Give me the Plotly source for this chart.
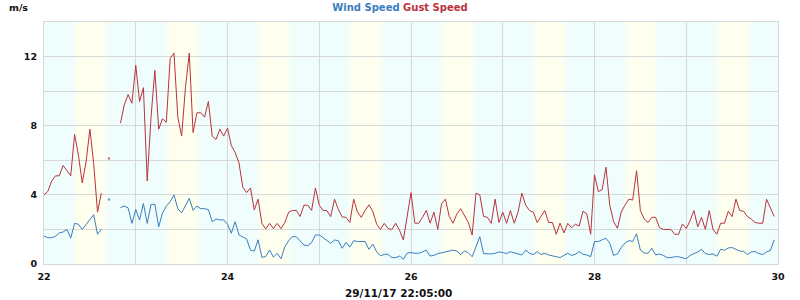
import pandas as pd
import plotly.graph_objects as go

# ---- data (hourly, from 22/11/2017 00:00) ----
start = "2017-11-22 00:00"
gust_d22 = [4.0, 4.2, 4.8, 5.1, 5.1, 5.7, 5.4, 5.1, 7.5, 6.3, 4.7, 5.9, 7.8, 5.8, 3.0, 4.1, None, 6.1, None, None, 8.15, 9.2, 9.8, 9.3]
gust_d23 = [11.5, 9.4, 10.2, 4.8, 8.5, 11.2, 7.8, 8.4, 8.2, 11.9, 12.2, 8.5, 7.4, 10.2, 12.2, 7.6, 8.75, 8.75, 8.5, 9.4, 7.4, 7.2, 7.8, 7.4]
gust_d24 = [7.86, 6.85, 6.45, 5.85, 4.45, 4.13, 4.4, 3.13, 3.75, 2.35, 2.03, 2.35, 2.05, 2.35, 2.05, 2.4, 3.0, 3.1, 3.1, 2.75, 3.4, 3.4, 3.1, 4.4]
gust_d25 = [3.4, 3.09, 3.09, 2.74, 3.75, 3.15, 2.72, 2.7, 2.4, 3.75, 3.0, 2.7, 3.1, 3.42, 3.05, 2.32, 2.0, 2.35, 2.05, 2.0, 2.36, 1.95, 1.39, 2.75]
gust_d26 = [4.13, 2.36, 2.36, 2.7, 3.1, 2.36, 3.0, 2.0, 3.5, 3.75, 2.75, 2.36, 2.9, 3.2, 2.8, 2.4, 1.68, 4.1, 4.0, 2.75, 2.7, 2.35, 3.75, 2.4]
gust_d27 = [3.0, 2.36, 3.09, 2.36, 3.0, 4.1, 3.4, 3.09, 3.0, 2.4, 2.75, 3.09, 2.4, 2.4, 1.72, 2.36, 1.8, 2.35, 2.1, 2.3, 2.2, 3.05, 2.9, 1.72]
gust_d28 = [5.16, 4.19, 4.3, 5.6, 3.4, 2.45, 2.07, 3.0, 3.42, 3.75, 3.7, 5.4, 3.1, 2.6, 2.4, 2.7, 2.7, 2.1, 2.0, 2.0, 2.0, 1.72, 1.72, 2.32]
gust_d29 = [2.05, 2.5, 3.09, 2.15, 2.7, 2.0, 3.09, 2.0, 1.72, 2.36, 2.36, 3.05, 2.74, 3.75, 3.09, 3.05, 2.74, 2.6, 2.4, 2.36, 2.36, 3.75, 3.3, 2.75]

wind_d22 = [1.62, 1.52, 1.52, 1.6, 1.8, 1.85, 2.0, 1.5, 2.35, 2.3, 2.0, 2.3, 2.55, 2.85, 1.72, 2.0, None, 3.73, None, None, 3.27, 3.35, 3.25, 2.35]
wind_d23 = [3.15, 2.55, 3.5, 2.35, 3.45, 3.45, 2.15, 2.95, 3.35, 3.6, 4.0, 3.2, 2.96, 3.4, 3.8, 3.1, 3.35, 3.2, 3.2, 3.15, 2.45, 2.6, 2.55, 2.55]
wind_d24 = [2.3, 1.78, 2.45, 1.68, 1.57, 1.45, 0.8, 0.75, 1.4, 0.39, 0.43, 0.81, 0.4, 0.62, 0.3, 1.0, 1.35, 1.58, 1.58, 1.32, 1.1, 1.06, 1.24, 1.68]
wind_d25 = [1.68, 1.52, 1.35, 1.2, 1.39, 1.35, 0.91, 1.25, 0.98, 1.35, 1.3, 1.3, 1.3, 0.85, 1.15, 0.71, 0.47, 0.56, 0.56, 0.37, 0.37, 0.46, 0.27, 0.63]
wind_d26 = [0.66, 0.62, 0.62, 0.7, 0.8, 0.46, 0.5, 0.6, 0.65, 0.7, 0.76, 0.8, 0.75, 0.55, 0.75, 0.65, 0.42, 1.05, 1.58, 0.6, 0.58, 0.58, 0.62, 0.7]
wind_d27 = [0.66, 0.6, 0.71, 0.64, 0.58, 0.52, 0.8, 0.62, 0.54, 0.72, 0.55, 0.62, 0.52, 0.48, 0.44, 0.37, 0.5, 0.62, 0.5, 0.56, 0.72, 0.56, 0.52, 0.42]
wind_d28 = [1.3, 1.3, 1.4, 1.49, 1.2, 0.5, 0.58, 0.95, 1.22, 1.35, 1.3, 1.75, 0.8, 0.64, 0.62, 0.91, 0.53, 0.58, 0.5, 0.37, 0.37, 0.42, 0.42, 0.35]
wind_d29 = [0.3, 0.5, 0.6, 0.7, 0.85, 0.6, 0.55, 0.58, 0.45, 0.85, 0.8, 0.93, 0.95, 0.85, 0.75, 0.73, 0.55, 0.7, 0.72, 0.6, 0.55, 0.7, 0.78, 1.39]

gust = gust_d22 + gust_d23 + gust_d24 + gust_d25 + gust_d26 + gust_d27 + gust_d28 + gust_d29
wind = wind_d22 + wind_d23 + wind_d24 + wind_d25 + wind_d26 + wind_d27 + wind_d28 + wind_d29
times = pd.date_range(start, periods=len(gust), freq="h")

days = list(range(22, 30))
y_tickvals = [0, 4, 8, 12]
x_title = "29/11/17 22:05:00"
unit_label = "m/s"

WIND_C = "#3b7dc0"
GUST_C = "#b9333d"
CYAN = (239, 253, 253)
YELLOW = (254, 255, 238)
GRID = "#d8d8d8"
FONT = "DejaVu Sans"


def iso_sizes(vals):
    out = []
    for i, v in enumerate(vals):
        prev_none = i == 0 or vals[i - 1] is None
        next_none = i == len(vals) - 1 or vals[i + 1] is None
        out.append(2.5 if (v is not None and prev_none and next_none) else 0)
    return out


fig = go.Figure()
for name, vals, col in [("Gust Speed", gust, GUST_C), ("Wind Speed", wind, WIND_C)]:
    fig.add_trace(go.Scatter(
        x=times, y=vals, name=name, mode="lines+markers",
        line=dict(color=col, width=1), connectgaps=False,
        marker=dict(size=iso_sizes(vals), color=col, line=dict(width=0)),
        hoverinfo="skip", showlegend=False,
    ))

# day/night background bands with soft gradients
def mix(t):
    return "rgb(%d,%d,%d)" % tuple(round(c + (y - c) * t) for c, y in zip(CYAN, YELLOW))

shapes = []
steps = 6
for d in days:
    base = pd.Timestamp(2017, 11, d)
    r_in0, r_in1, r_out0, r_out1 = 0.30, 0.37, 0.65, 0.72
    def at(f):
        return base + pd.Timedelta(days=f)
    for k in range(steps):
        a = r_in0 + (r_in1 - r_in0) * k / steps
        b = r_in0 + (r_in1 - r_in0) * (k + 1) / steps
        shapes.append(dict(type="rect", xref="x", yref="paper", x0=at(a), x1=at(b), y0=0, y1=1,
                           fillcolor=mix((k + 0.5) / steps), line=dict(width=0), layer="below"))
        a2 = r_out0 + (r_out1 - r_out0) * k / steps
        b2 = r_out0 + (r_out1 - r_out0) * (k + 1) / steps
        shapes.append(dict(type="rect", xref="x", yref="paper", x0=at(a2), x1=at(b2), y0=0, y1=1,
                           fillcolor=mix(1 - (k + 0.5) / steps), line=dict(width=0), layer="below"))
    shapes.append(dict(type="rect", xref="x", yref="paper", x0=at(r_in1), x1=at(r_out0), y0=0, y1=1,
                       fillcolor=mix(1), line=dict(width=0), layer="below"))

tickfont = dict(family=FONT, size=9.5, color="#111", weight="bold")

fig.update_layout(
    width=800, height=300,
    margin=dict(l=44, r=22, t=22, b=36),
    paper_bgcolor="white",
    plot_bgcolor="rgb(%d,%d,%d)" % CYAN,
    shapes=shapes,
    title=dict(
        text="<span style='color:%s'>Wind Speed</span> <span style='color:%s'>Gust Speed</span>" % (WIND_C, GUST_C),
        x=0.5, xref="container", xanchor="center", y=1 - 7.5 / 300, yref="container", yanchor="middle",
        font=dict(family=FONT, size=10, weight="bold"),
    ),
    xaxis=dict(
        type="date", range=[pd.Timestamp(2017, 11, 22), pd.Timestamp(2017, 11, 30)],
        tick0=pd.Timestamp(2017, 11, 22), dtick=2 * 86400000, tickformat="%-d",
        showgrid=True, gridcolor=GRID, gridwidth=1,
        minor=dict(dtick=86400000, showgrid=True, gridcolor=GRID, gridwidth=1),
        showline=True, mirror=True, linecolor=GRID, linewidth=1,
        ticks="outside", ticklen=4, tickcolor="rgba(0,0,0,0)",
        tickfont=tickfont, zeroline=False,
    ),
    yaxis=dict(
        range=[0, 14], tickvals=y_tickvals,
        showgrid=True, gridcolor=GRID, gridwidth=1,
        minor=dict(dtick=2, showgrid=True, gridcolor=GRID, gridwidth=1),
        showline=True, mirror=True, linecolor=GRID, linewidth=1,
        ticks="outside", ticklen=4, tickcolor="rgba(0,0,0,0)",
        tickfont=tickfont, zeroline=False,
    ),
    annotations=[
        dict(text=unit_label, xref="paper", yref="paper", x=(18.5 - 44) / 734, y=1, yshift=14.5,
             xanchor="center", yanchor="middle", showarrow=False,
             font=dict(family=FONT, size=9.5, color="#111", weight="bold")),
        dict(text=x_title, xref="paper", yref="paper", x=(398 - 44) / 734, y=0, yshift=-29,
             xanchor="center", yanchor="middle", showarrow=False,
             font=dict(family=FONT, size=10.5, color="#111", weight="bold")),
    ],
)

fig.write_html("out.html")
